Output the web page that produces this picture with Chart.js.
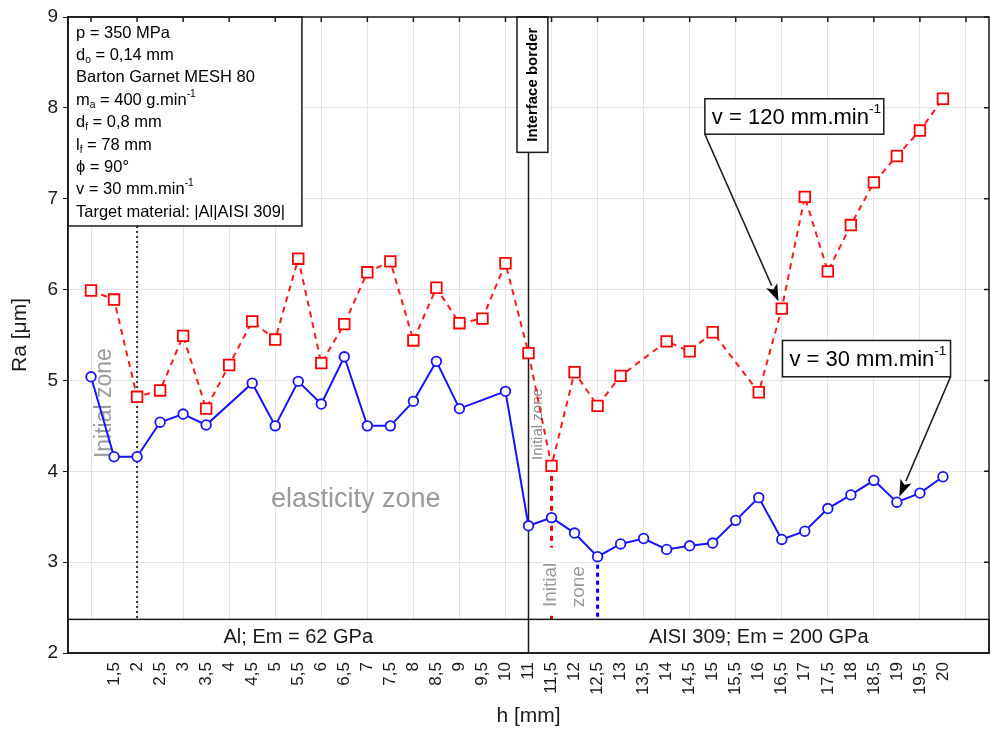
<!DOCTYPE html>
<html>
<head>
<meta charset="utf-8">
<title>Ra vs h</title>
<script src="https://cdn.jsdelivr.net/npm/chart.js@4.4.1/dist/chart.umd.min.js"></script>
<style>
  html, body { margin: 0; padding: 0; background: #fff; }
  canvas { display: block; }
</style>
</head>
<body>
<canvas id="chart" width="991" height="741"></canvas>
<script>
// h [mm] - measured positions, used as categories (10,5 was not measured)
const hLabels = ['1', '1,5', '2', '2,5', '3', '3,5', '4', '4,5', '5', '5,5', '6', '6,5', '7', '7,5', '8', '8,5', '9', '9,5', '10',
                 '11', '11,5', '12', '12,5', '13', '13,5', '14', '14,5', '15', '15,5', '16', '16,5', '17', '17,5', '18', '18,5', '19', '19,5', '20'];

// Ra [um], v = 120 mm.min-1 (red, dashed)
const ra120 = [5.99, 5.89, 4.82, 4.89, 5.49, 4.69, 5.17, 5.65, 5.45, 6.34, 5.19, 5.62, 6.19, 6.31, 5.44, 6.02, 5.63, 5.68, 6.29,
               5.30, 4.06, 5.09, 4.72, 5.05, null, 5.43, 5.32, 5.53, null, 4.87, 5.79, 7.02, 6.20, 6.71, 7.18, 7.47, 7.75, 8.10];

// Ra [um], v = 30 mm.min-1 (blue, solid)
const ra30 = [5.04, 4.16, 4.16, 4.54, 4.63, 4.51, null, 4.97, 4.50, 4.99, 4.74, 5.26, 4.50, 4.50, 4.77, 5.21, 4.69, null, 4.88,
              3.40, 3.49, 3.32, 3.06, 3.20, 3.26, 3.14, 3.18, 3.21, 3.46, 3.71, 3.25, 3.34, 3.59, 3.74, 3.90, 3.66, 3.76, 3.94];

const yTicks = [2, 3, 4, 5, 6, 7, 8, 9];

const FONT = "'Liberation Sans', Arial, sans-serif";
const INK = '#1a1a1a';
const GRAY = '#9a9a9a';

// info box text, each line is a list of [text, mode]
const infoLines = [
    [['p = 350 MPa', 'n']],
    [['d', 'n'], ['o', 'sub'], [' = 0,14 mm', 'n']],
    [['Barton Garnet MESH 80', 'n']],
    [['m', 'n'], ['a', 'sub'], [' = 400 g.min', 'n'], ['-1', 'sup']],
    [['d', 'n'], ['f', 'sub'], [' = 0,8 mm', 'n']],
    [['l', 'n'], ['f', 'sub'], [' = 78 mm', 'n']],
    [['\u03d5 = 90\u00b0', 'n']],
    [['v = 30 mm.min', 'n'], ['-1', 'sup']],
    [['Target material: |Al|AISI 309|', 'n']]
];

function toPoints(arr)
{
    return arr.map((v, i) => ({x: i, y: v}));
}

function richText(ctx, parts, x, y, size, draw)
{
    let cx = x;
    for (const [t, m] of parts)
    {
        const s = m === 'n' ? size : size * 0.62;
        const dy = m === 'sub' ? size * 0.3 : (m === 'sup' ? -size * 0.38 : 0);
        ctx.font = s + 'px ' + FONT;
        if (draw) ctx.fillText(t, cx, y + dy);
        cx += ctx.measureText(t).width;
    }
    return cx - x;
}

function arrow(ctx, x1, y1, x2, y2)
{
    const ang = Math.atan2(y2 - y1, x2 - x1);
    const hl = 17, hw = 6;
    const bx = x2 - hl * Math.cos(ang), by = y2 - hl * Math.sin(ang);
    ctx.beginPath();
    ctx.moveTo(x1, y1);
    ctx.lineTo(bx, by);
    ctx.stroke();
    ctx.beginPath();
    ctx.moveTo(x2, y2);
    ctx.lineTo(bx + hw * Math.sin(ang), by - hw * Math.cos(ang));
    ctx.lineTo(bx + 4 * Math.cos(ang), by + 4 * Math.sin(ang));
    ctx.lineTo(bx - hw * Math.sin(ang), by + hw * Math.cos(ang));
    ctx.closePath();
    ctx.fill();
}

function vText(ctx, text, x, y, font, color)
{
    ctx.save();
    ctx.translate(x, y);
    ctx.rotate(-Math.PI / 2);
    ctx.font = font;
    ctx.fillStyle = color;
    ctx.textAlign = 'center';
    ctx.textBaseline = 'middle';
    ctx.fillText(text, 0, 0);
    ctx.restore();
}

const materialTop = 2.37;   // top of the material strip at the bottom

const overlay = {
    id: 'overlay',
    beforeDatasetsDraw(chart)
    {
        const {ctx, chartArea: a, scales: {x, y}} = chart;
        ctx.save();

        // end of initial zone in Al
        const i2 = hLabels.indexOf('2');
        ctx.strokeStyle = '#333';
        ctx.lineWidth = 2;
        ctx.setLineDash([2, 3]);
        ctx.beginPath();
        ctx.moveTo(x.getPixelForValue(i2), y.getPixelForValue(6.70));
        ctx.lineTo(x.getPixelForValue(i2), y.getPixelForValue(materialTop));
        ctx.stroke();

        // initial zone markers in AISI 309
        const iR = hLabels.indexOf('11,5');
        ctx.strokeStyle = '#ff0000';
        ctx.lineWidth = 3;
        ctx.setLineDash([5, 5]);
        ctx.beginPath();
        ctx.moveTo(x.getPixelForValue(iR), y.getPixelForValue(ra120[iR]));
        ctx.lineTo(x.getPixelForValue(iR), y.getPixelForValue(materialTop));
        ctx.stroke();

        const iB = hLabels.indexOf('12,5');
        ctx.strokeStyle = '#0000ff';
        ctx.setLineDash([4, 4]);
        ctx.beginPath();
        ctx.moveTo(x.getPixelForValue(iB), y.getPixelForValue(ra30[iB]));
        ctx.lineTo(x.getPixelForValue(iB), y.getPixelForValue(materialTop));
        ctx.stroke();

        // interface border
        const iI = hLabels.indexOf('11');
        ctx.setLineDash([]);
        ctx.strokeStyle = INK;
        ctx.lineWidth = 1.5;
        ctx.beginPath();
        ctx.moveTo(x.getPixelForValue(iI), a.top);
        ctx.lineTo(x.getPixelForValue(iI), a.bottom);
        ctx.stroke();

        // gray zone labels
        vText(ctx, 'Initial zone', x.getPixelForValue(0.6), y.getPixelForValue(4.75), '23px ' + FONT, GRAY);
        ctx.font = '27px ' + FONT;
        ctx.fillStyle = GRAY;
        ctx.textAlign = 'center';
        ctx.textBaseline = 'middle';
        ctx.fillText('elasticity zone', x.getPixelForValue(11.5), y.getPixelForValue(3.69));
        vText(ctx, 'Initial zone', x.getPixelForValue(19.4), y.getPixelForValue(4.52), '15px ' + FONT, '#8a8a8a');

        // "Initial" covers the red marker line
        ctx.fillStyle = '#fff';
        const ix = x.getPixelForValue(iR);
        ctx.fillRect(ix - 8, y.getPixelForValue(3.16), 16, y.getPixelForValue(2.42) - y.getPixelForValue(3.16));
        vText(ctx, 'Initial', ix - 1, y.getPixelForValue(2.75), '19px ' + FONT, GRAY);
        vText(ctx, 'zone', x.getPixelForValue(21.2), y.getPixelForValue(2.73), '19px ' + FONT, GRAY);

        ctx.restore();
    },
    afterDatasetsDraw(chart)
    {
        const {ctx, chartArea: a, scales: {x, y}} = chart;
        ctx.save();
        ctx.strokeStyle = INK;
        ctx.lineWidth = 1.5;
        ctx.setLineDash([]);

        // material strip
        const sTop = y.getPixelForValue(materialTop);
        const iI = x.getPixelForValue(hLabels.indexOf('11'));
        ctx.fillStyle = '#fff';
        ctx.fillRect(a.left, sTop, a.right - a.left, a.bottom - sTop);
        ctx.strokeRect(a.left, sTop, a.right - a.left, a.bottom - sTop);
        ctx.beginPath();
        ctx.moveTo(iI, sTop);
        ctx.lineTo(iI, a.bottom);
        ctx.stroke();
        ctx.fillStyle = INK;
        ctx.font = '20px ' + FONT;
        ctx.textAlign = 'center';
        ctx.textBaseline = 'middle';
        const sMid = (sTop + a.bottom) / 2 + 1;
        ctx.fillText('Al; Em = 62 GPa', (a.left + iI) / 2, sMid);
        ctx.fillText('AISI 309; Em = 200 GPa', (iI + a.right) / 2, sMid);

        // interface border label
        const bx0 = x.getPixelForValue(18.5), bx1 = x.getPixelForValue(19.84);
        const by1 = y.getPixelForValue(7.51);
        ctx.fillStyle = '#fff';
        ctx.fillRect(bx0, a.top, bx1 - bx0, by1 - a.top);
        ctx.strokeRect(bx0, a.top, bx1 - bx0, by1 - a.top);
        vText(ctx, 'Interface border', (bx0 + bx1) / 2, (a.top + by1) / 2, 'bold 15px ' + FONT, '#000');

        // parameter box
        const px1 = x.getPixelForValue(9.16), py1 = y.getPixelForValue(6.70);
        ctx.fillStyle = '#fff';
        ctx.fillRect(a.left, a.top, px1 - a.left, py1 - a.top);
        ctx.strokeRect(a.left, a.top, px1 - a.left, py1 - a.top);
        ctx.fillStyle = '#000';
        ctx.textAlign = 'left';
        ctx.textBaseline = 'middle';
        infoLines.forEach((line, k) => {
            richText(ctx, line, a.left + 8, a.top + 16 + k * 22.4, 16.5, true);
        });

        // callouts
        const callouts = [
            {parts: [['v = 120 mm.min', 'n'], ['-1', 'sup']], box: [26.66, 8.10, 34.43, 7.71], from: 'left',
             to: [hLabels.indexOf('16,5'), ra120], back: 8},
            {parts: [['v = 30 mm.min', 'n'], ['-1', 'sup']], box: [30.03, 5.44, 37.33, 5.04], from: 'right',
             to: [hLabels.indexOf('19'), ra30], back: 6}
        ];
        for (const c of callouts)
        {
            const l = x.getPixelForValue(c.box[0]), t = y.getPixelForValue(c.box[1]);
            const r = x.getPixelForValue(c.box[2]), b = y.getPixelForValue(c.box[3]);
            ctx.fillStyle = '#fff';
            ctx.fillRect(l, t, r - l, b - t);
            ctx.lineWidth = 1.5;
            ctx.strokeRect(l, t, r - l, b - t);
            ctx.fillStyle = '#000';
            richText(ctx, c.parts, l + 7, (t + b) / 2 + 1, 22, true);

            const sx = c.from === 'left' ? l : r;
            const tx = x.getPixelForValue(c.to[0]), ty = y.getPixelForValue(c.to[1][c.to[0]]);
            const ang = Math.atan2(ty - b, tx - sx);
            ctx.lineWidth = 1.6;
            arrow(ctx, sx, b, tx - c.back * Math.cos(ang), ty - c.back * Math.sin(ang));
        }

        // frame with inner ticks on top and right
        ctx.strokeStyle = INK;
        ctx.lineWidth = 1.5;
        ctx.strokeRect(a.left, a.top, a.right - a.left, a.bottom - a.top);
        ctx.beginPath();
        for (let i = 0; i < hLabels.length + 1; i += 2)
        {
            const tx = x.getPixelForValue(i);
            ctx.moveTo(tx, a.top);
            ctx.lineTo(tx, a.top + 5);
        }
        for (const v of yTicks)
        {
            const ty = y.getPixelForValue(v);
            ctx.moveTo(a.right, ty);
            ctx.lineTo(a.right - 5, ty);
        }
        ctx.stroke();
        ctx.restore();
    }
};

Chart.defaults.font.family = FONT;

new Chart(document.getElementById('chart'), {
    type: 'line',
    data: {
        datasets: [
            {
                label: 'v = 120 mm.min-1',
                data: toPoints(ra120),
                borderColor: '#ff1a1a',
                borderWidth: 2,
                borderDash: [6, 5],
                pointStyle: 'rect',
                pointRadius: 7.5,
                pointBorderColor: '#ff0000',
                pointBackgroundColor: '#fff',
                pointBorderWidth: 1.8,
                spanGaps: true,
                tension: 0
            },
            {
                label: 'v = 30 mm.min-1',
                data: toPoints(ra30),
                borderColor: '#1414ff',
                borderWidth: 2,
                pointStyle: 'circle',
                pointRadius: 4.8,
                pointBorderColor: '#1414ff',
                pointBackgroundColor: '#fff',
                pointBorderWidth: 1.8,
                spanGaps: true,
                tension: 0
            }
        ]
    },
    options: {
        responsive: false,
        animation: false,
        devicePixelRatio: 1,
        layout: {autoPadding: false, padding: {top: 17, right: 2, left: 0, bottom: 0}},
        plugins: {legend: {display: false}, tooltip: {enabled: false}},
        scales: {
            x: {
                type: 'linear',
                min: -1,
                max: hLabels.length + 1,
                afterFit: (s) => { s.height = 88; s.paddingLeft = 0; s.paddingRight = 0; },
                ticks: {
                    stepSize: 1,
                    autoSkip: false,
                    minRotation: 90,
                    maxRotation: 90,
                    padding: 9,
                    color: INK,
                    font: {size: 17},
                    callback: (v) => {
                        const i = Math.round(v);
                        return (i >= 1 && i < hLabels.length) ? hLabels[i] : '';
                    }
                },
                grid: {
                    drawTicks: false,
                    color: (c) => {
                        const i = Math.round(c.tick.value);
                        return (i >= 0 && i % 2 === 0 && i <= hLabels.length) ? '#e4e4e4' : 'rgba(0,0,0,0)';
                    }
                },
                border: {color: INK, width: 1.5},
                title: {display: true, text: 'h [mm]', color: INK, font: {size: 21}, padding: {top: 0, bottom: 12}}
            },
            y: {
                min: yTicks[0],
                max: yTicks[yTicks.length - 1],
                afterFit: (s) => { s.width = 68; },
                ticks: {stepSize: 1, color: INK, font: {size: 19}, padding: 5},
                grid: {color: '#e4e4e4', tickColor: INK, tickLength: 5},
                border: {color: INK, width: 1.5},
                title: {display: true, text: 'Ra [\u03bcm]', color: INK, font: {size: 21}, padding: {top: 8}}
            }
        }
    },
    plugins: [overlay]
});
</script>
</body>
</html>
